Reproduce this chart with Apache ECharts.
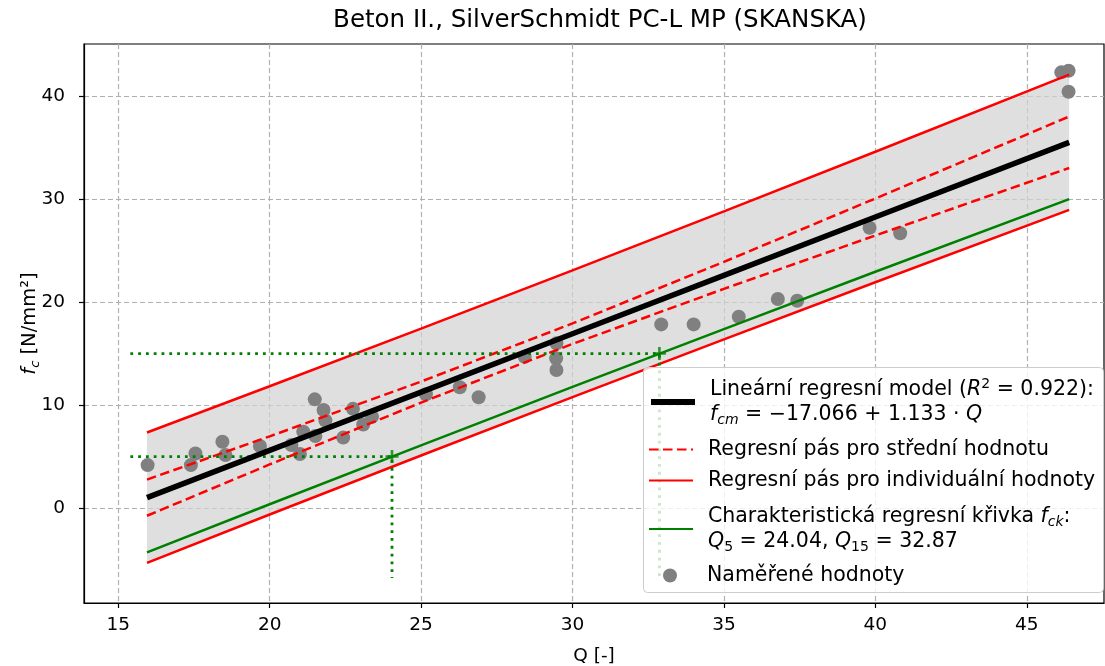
<!DOCTYPE html>
<html>
<head>
<meta charset="utf-8">
<script src="https://cdn.jsdelivr.net/npm/echarts@6/dist/echarts.min.js"></script>
<style>
  html, body { margin: 0; padding: 0; background: #fff; }
  #chart { width: 1105px; height: 666px; }
</style>
</head>
<body>
<div id="chart"></div>
<script>
// Measured rebound values Q and compressive strengths fc
const qMeasured = [15.97, 17.40, 17.55, 18.44, 18.54, 19.68, 20.72, 21.00, 21.11, 21.49,
                   21.51, 21.78, 21.84, 22.43, 22.75, 23.09, 23.38, 25.16, 26.28, 26.90,
                   28.42, 29.47, 29.46, 29.47, 32.93, 34.00, 35.49, 36.78, 37.42, 39.81,
                   40.82, 46.14, 46.38, 46.38];
const fcMeasured = [4.17, 4.17, 5.29, 6.44, 5.15, 6.02, 6.12, 5.24, 7.41, 10.55,
                    6.99, 9.51, 8.50, 6.84, 9.63, 8.11, 8.86, 11.04, 11.72, 10.75,
                    14.69, 15.99, 14.53, 13.40, 17.83, 17.83, 18.57, 20.29, 20.13, 27.21,
                    26.67, 42.30, 42.46, 40.42];

// Regression model and its bands along Q
const qBand = [15.95, 20, 25, 30, 35, 40, 46.4];
const fitLine = [1.005, 5.594, 11.259, 16.924, 22.589, 28.254, 35.505];
const meanUpper = [2.76, 6.96, 12.28, 17.92, 23.90, 30.05, 38.01];
const meanLower = [-0.75, 4.23, 10.24, 15.93, 21.28, 26.46, 33.01];
const indUpper = [7.33, 11.82, 17.42, 23.08, 28.80, 34.59, 42.07];
const indLower = [-5.32, -0.63, 5.10, 10.77, 16.38, 21.92, 28.94];
const charCurve = [-4.31, 0.37, 6.09, 11.76, 17.37, 22.94, 29.99];

// Characteristic quantiles Q5, Q15 and the strengths they correspond to
const qQuantiles = [24.04, 32.87];
const fckLevels = [5, 15];
const guideStartQ = 15.4;
const guideBottomFc = -6.8;

// Axis ticks
const xTicks = [15, 20, 25, 30, 35, 40, 45];
const yTicks = [0, 10, 20, 30, 40];

const FONT = 'DejaVu Sans';
const pairs = (xs, ys) => xs.map((x, i) => [x, ys[i]]);

const NAME_FIT = 'Lineární regresní model';
const NAME_MEAN = 'Regresní pás pro střední hodnotu';
const NAME_IND = 'Regresní pás pro individuální hodnoty';
const NAME_CHAR = 'Charakteristická regresní křivka';
const NAME_PTS = 'Naměřené hodnoty';

const LFS = 20.5;
const legendRich = {
  n:    { fontFamily: FONT, fontSize: LFS, color: '#000', lineHeight: 25 },
  i:    { fontFamily: FONT, fontSize: LFS, color: '#000', fontStyle: 'italic', lineHeight: 25 },
  sup:  { fontFamily: FONT, fontSize: 14, color: '#000', verticalAlign: 'top', lineHeight: 18 },
  sub:  { fontFamily: FONT, fontSize: 14, color: '#000', verticalAlign: 'bottom', lineHeight: 16 },
  isub: { fontFamily: FONT, fontSize: 14, color: '#000', fontStyle: 'italic', verticalAlign: 'bottom', lineHeight: 16 },
  s:    { fontFamily: FONT, fontSize: LFS, color: '#000', lineHeight: 24 }
};

const legendText = {};
legendText[NAME_FIT] = '{n|Lineární regresní model (}{i|R}{sup|2}{n| = 0.922):}\n{i|f}{isub|cm}{n| = −17.066 + 1.133 · }{i|Q}';
legendText[NAME_MEAN] = '{s|Regresní pás pro střední hodnotu}';
legendText[NAME_IND] = '{s|Regresní pás pro individuální hodnoty}';
legendText[NAME_CHAR] = '{n|Charakteristická regresní křivka }{i|f}{isub|ck}{n|:}\n{i|Q}{sub|5}{n| = 24.04, }{i|Q}{sub|15}{n| = 32.87}';
legendText[NAME_PTS] = '{s|Naměřené hodnoty}';

// legend entries: name, placement, optional icon line width
const legendEntries = [
  { name: NAME_FIT, left: 648, top: 377, lineWidth: 6 },
  { name: NAME_MEAN, left: 648, top: 439 },
  { name: NAME_IND, left: 648, top: 470 },
  { name: NAME_CHAR, left: 648, top: 506 },
  { name: NAME_PTS, left: 663, top: 565, dot: true }
];

const bandPolygon = pairs(qBand, indUpper).concat(pairs(qBand, indLower).reverse());

const plusSymbol = 'path://M4,0 H6 V4 H10 V6 H6 V10 H4 V6 H0 V4 H4 Z';
const hiddenDot = { color: 'rgba(0,0,0,0)', borderWidth: 0 };

const legends = legendEntries.map(e => {
  const item = { name: e.name };
  if (!e.dot) item.itemStyle = hiddenDot;
  if (e.lineWidth) item.lineStyle = { width: e.lineWidth };
  return {
    orient: 'vertical',
    left: e.left,
    top: e.top,
    padding: 0,
    z: 10,
    itemWidth: 44,
    itemHeight: 14,
    selectedMode: false,
    data: [item],
    formatter: name => legendText[name],
    textStyle: { fontFamily: FONT, fontSize: LFS, color: '#000', padding: [0, 0, 0, 10], rich: legendRich }
  };
});

const chart = echarts.init(document.getElementById('chart'), null, { renderer: 'canvas' });

chart.setOption({
  animation: false,
  backgroundColor: '#fff',
  title: {
    text: 'Beton II., SilverSchmidt PC-L MP (SKANSKA)',
    left: 600,
    textAlign: 'center',
    top: 8,
    padding: 0,
    textStyle: { fontFamily: FONT, fontSize: 24.5, fontWeight: 'normal', color: '#000' }
  },
  grid: {
    left: 84, top: 44, width: 1020, height: 559,
    show: true, borderColor: '#000', borderWidth: 1.2,
    outerBoundsMode: 'none'
  },
  graphic: {
    elements: [{
      // legend frame
      type: 'rect',
      z: 8,
      silent: true,
      shape: { x: 643.5, y: 367.5, width: 460, height: 225, r: 4 },
      style: { fill: 'rgba(255,255,255,0.8)', stroke: '#cccccc', lineWidth: 1 }
    }]
  },
  legend: legends,
  xAxis: {
    type: 'value',
    min: 13.87,
    max: 47.55,
    name: 'Q [-]',
    nameLocation: 'middle',
    nameGap: 44,
    nameMoveOverlap: false,
    nameTextStyle: { fontFamily: FONT, fontSize: 18.5, color: '#000' },
    axisLine: { show: true, onZero: false, lineStyle: { color: '#000', width: 1.2 } },
    axisTick: { show: true, inside: false, length: 5, customValues: xTicks, lineStyle: { color: '#000', width: 1.2 } },
    axisLabel: { customValues: xTicks, fontFamily: FONT, fontSize: 18.5, color: '#000', margin: 13 },
    splitLine: { show: true, lineStyle: { color: '#b0b0b0', width: 1.2, type: [5, 3] } }
  },
  yAxis: {
    type: 'value',
    min: -9.22,
    max: 45.05,
    name: '{i|f}{isub|c}{n| [N/mm²]}',
    nameLocation: 'middle',
    nameGap: 42,
    nameRotate: 90,
    nameMoveOverlap: false,
    nameTextStyle: {
      fontFamily: FONT, fontSize: 19.5, color: '#000',
      rich: {
        n: { fontFamily: FONT, fontSize: 19.5, color: '#000', lineHeight: 24 },
        i: { fontFamily: FONT, fontSize: 19.5, color: '#000', fontStyle: 'italic', lineHeight: 24 },
        isub: { fontFamily: FONT, fontSize: 13, color: '#000', fontStyle: 'italic', verticalAlign: 'bottom', lineHeight: 15 }
      }
    },
    axisLine: { show: true, onZero: false, lineStyle: { color: '#000', width: 1.2 } },
    axisTick: { show: true, inside: false, length: 5, customValues: yTicks, lineStyle: { color: '#000', width: 1.2 } },
    axisLabel: { customValues: yTicks, fontFamily: FONT, fontSize: 18.5, color: '#000', margin: 19 },
    splitLine: { show: true, lineStyle: { color: '#b0b0b0', width: 1.2, type: [5, 3] } }
  },
  series: [
    {
      // shaded prediction band
      type: 'custom',
      name: 'band',
      z: 1,
      silent: true,
      data: [bandPolygon[0]],
      renderItem: (params, api) => ({
        type: 'polygon',
        shape: { points: bandPolygon.map(p => api.coord(p)) },
        style: { fill: 'rgba(211,211,211,0.72)' }
      })
    },
    {
      type: 'scatter',
      name: NAME_PTS,
      z: 2,
      symbol: 'circle',
      symbolSize: 14,
      itemStyle: { color: '#808080', opacity: 1 },
      data: pairs(qMeasured, fcMeasured)
    },
    {
      type: 'line', name: NAME_IND, z: 3, symbol: 'none',
      itemStyle: { color: '#ff0000' },
      lineStyle: { color: '#ff0000', width: 2.5 },
      data: pairs(qBand, indUpper)
    },
    {
      type: 'line', name: NAME_IND, z: 3, symbol: 'none',
      itemStyle: { color: '#ff0000' },
      lineStyle: { color: '#ff0000', width: 2.5 },
      data: pairs(qBand, indLower)
    },
    {
      type: 'line', name: NAME_MEAN, z: 3, symbol: 'none',
      itemStyle: { color: '#ff0000' },
      lineStyle: { color: '#ff0000', width: 2.5, type: [9.5, 4.5] },
      data: pairs(qBand, meanUpper)
    },
    {
      type: 'line', name: NAME_MEAN, z: 3, symbol: 'none',
      itemStyle: { color: '#ff0000' },
      lineStyle: { color: '#ff0000', width: 2.5, type: [9.5, 4.5] },
      data: pairs(qBand, meanLower)
    },
    {
      type: 'line', name: NAME_CHAR, z: 3, symbol: 'none',
      itemStyle: { color: '#008000' },
      lineStyle: { color: '#008000', width: 2.5 },
      data: pairs(qBand, charCurve)
    },
    {
      type: 'line', name: NAME_FIT, z: 4, symbol: 'none',
      itemStyle: { color: '#000000' },
      lineStyle: { color: '#000000', width: 5.5 },
      data: pairs(qBand, fitLine)
    },
    // guide lines from Q5 and Q15 to the characteristic strengths
    ...qQuantiles.map((q, k) => ({
      type: 'line', name: 'guide' + k, z: 3, symbol: 'none',
      lineStyle: { color: '#008000', width: 2.8, type: [2.8, 5] },
      data: [[guideStartQ, fckLevels[k]], [q, fckLevels[k]], [q, guideBottomFc]]
    })),
    {
      type: 'scatter',
      name: 'quantiles',
      z: 5,
      symbol: plusSymbol,
      symbolSize: 13,
      itemStyle: { color: '#008000' },
      data: pairs(qQuantiles, fckLevels)
    }
  ]
});
</script>
</body>
</html>
